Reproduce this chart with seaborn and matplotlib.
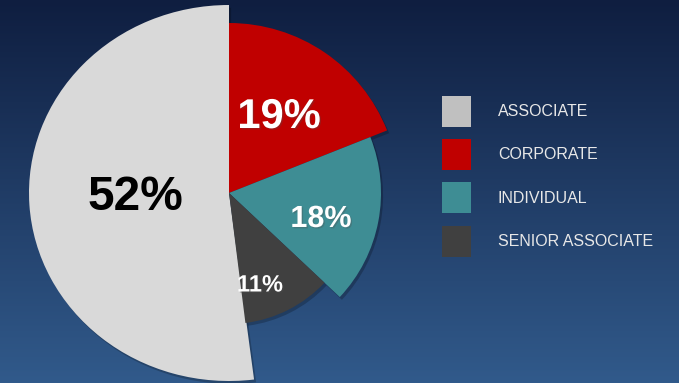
import numpy as np
import matplotlib
matplotlib.use("Agg")
import matplotlib.pyplot as plt
import matplotlib.patheffects as pe
from matplotlib.patches import Patch
from matplotlib.transforms import Affine2D
import seaborn as sns

# ---- data ----
categories = ["ASSOCIATE", "CORPORATE", "INDIVIDUAL", "SENIOR ASSOCIATE"]
shares = [52, 19, 18, 11]
labels = ["52%", "19%", "18%", "11%"]

# ---- styles ----
slice_colors = ["#d9d9d9", "#c00000", "#3e8d94", "#404040"]
legend_colors = ["#c0c0c0", "#c00000", "#3e8d94", "#404040"]
radii = [200, 170, 152, 131]
label_colors = ["black", "white", "white", "white"]
label_sizes = [34.5, 30, 22, 17]
label_pos_px = [(135, 197), (279, 117), (321, 219), (260, 285)]

sns.set_theme(style="white")
plt.rcParams["font.family"] = ["Liberation Sans", "DejaVu Sans"]

W, H = 679, 383
fig = plt.figure(figsize=(W / 100, H / 100), dpi=100)
ax = fig.add_axes([0, 0, 1, 1])

# background gradient
top = np.array([0x0f, 0x1e, 0x40]) / 255
bot = np.array([0x31, 0x5a, 0x8b]) / 255
t = np.linspace(0, 1, 256)[:, None]
grad = (top[None, :] * (1 - t) + bot[None, :] * t)[:, None, :]
grad = np.repeat(grad, 2, axis=1)
ax.imshow(grad, extent=(0, W, 0, H), origin="upper", aspect="auto", zorder=0)

cx, cy = 229, H - 193
wedges, _ = ax.pie(shares, colors=slice_colors, startangle=90 + 360 * shares[0] / 100,
                   counterclock=False, center=(cx, cy), radius=1, frame=True,
                   wedgeprops=dict(linewidth=0))
for w, r in zip(wedges, radii):
    w.set_radius(r)
    w.set_zorder(2)
    w.set_path_effects([pe.SimplePatchShadow(offset=(1.5, -2), alpha=0.22, shadow_rgbFace="black"),
                        pe.Normal()])
# slightly elliptical big slice
wedges[0].set_transform(Affine2D().translate(-cx, -cy).scale(1, 188 / 200).translate(cx, cy) + ax.transData)

for lab, col, fs, (px, py) in zip(labels, label_colors, label_sizes, label_pos_px):
    effects = [pe.withSimplePatchShadow(offset=(1, -1), alpha=0.3)] if col == "white" else None
    ax.text(px, H - py, lab, color=col, fontsize=fs, fontweight="bold",
            ha="center", va="center", zorder=5, path_effects=effects)

ax.set_xlim(0, W)
ax.set_ylim(0, H)
ax.set_aspect("auto")
ax.axis("off")

handles = [Patch(facecolor=c, edgecolor="none") for c in legend_colors]
leg = ax.legend(handles, categories, loc="upper left",
                bbox_to_anchor=(442 / W, 1 - 96 / H), bbox_transform=fig.transFigure,
                frameon=False, fontsize=11.5, labelcolor="#e8e8e8",
                handlelength=1.8, handleheight=2.6, handletextpad=1.7,
                labelspacing=0.77, borderpad=0, borderaxespad=0)

fig.savefig("out.png", dpi=100)
